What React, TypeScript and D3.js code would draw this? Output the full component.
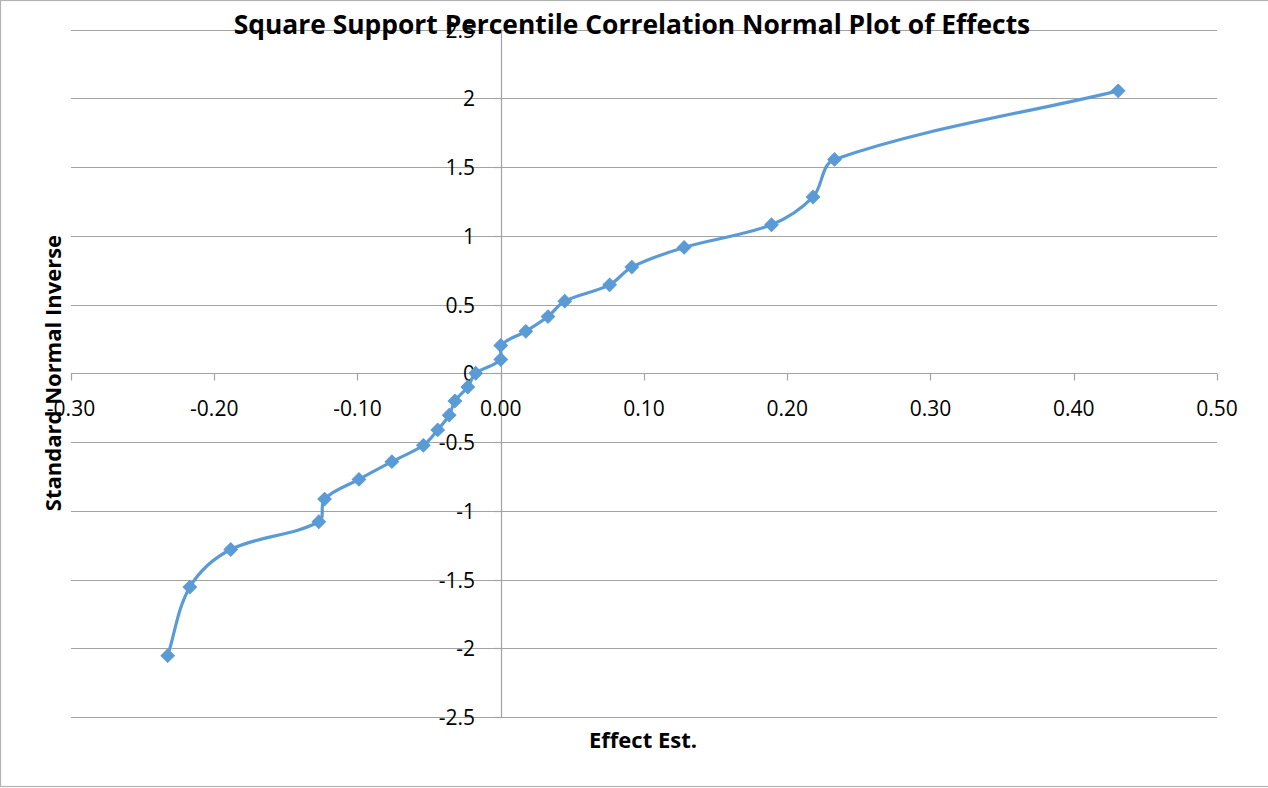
import React, { useEffect, useRef } from "react";
import * as d3 from "d3";

// Effect estimates (x) and their standard normal inverse scores (y)
const effectEst = [
  -0.2325, -0.217, -0.1885, -0.127, -0.123, -0.099, -0.076, -0.054, -0.044,
  -0.036, -0.032, -0.023, -0.0175, 0.0, 0.0, 0.0175, 0.033, 0.0447, 0.076,
  0.0915, 0.128, 0.189, 0.218, 0.233, 0.431,
];
const normalInverse = [
  -2.054, -1.555, -1.282, -1.08, -0.915, -0.772, -0.643, -0.524, -0.412,
  -0.305, -0.202, -0.1, 0.0, 0.1, 0.202, 0.305, 0.412, 0.524, 0.643, 0.772,
  0.915, 1.08, 1.282, 1.555, 2.054,
];
const xTicks = [-0.3, -0.2, -0.1, 0.0, 0.1, 0.2, 0.3, 0.4, 0.5];
const yTicks = [-2.5, -2, -1.5, -1, -0.5, 0, 0.5, 1, 1.5, 2, 2.5];

const title = "Square Support Percentile Correlation Normal Plot of Effects";
const xTitle = "Effect Est.";
const yTitle = "Standard Normal Inverse";

const W = 1268;
const H = 788;
const FONT = "'Open Sans', 'Liberation Sans', sans-serif";
const BLUE = "#5b9bd5";
const GRID = "#a3a3a3";

// plain hyphen-minus for negative numbers
const hy = (s: string) => s.replace(/\u2212/g, "-");

// Smooth Bezier through screen points: tangent direction from the neighbours,
// handle length proportional to the segment being drawn (no overshoot loops).
function smoothPath(p: [number, number][]): string {
  const path = d3.path();
  const n = p.length;
  const unit = (a: [number, number], b: [number, number]) => {
    const dx = b[0] - a[0];
    const dy = b[1] - a[1];
    const l = Math.hypot(dx, dy) || 1;
    return [dx / l, dy / l];
  };
  const tangent = (i: number) => {
    if (i === 0) return unit(p[0], p[1]);
    if (i === n - 1) return unit(p[n - 2], p[n - 1]);
    return unit(p[i - 1], p[i + 1]);
  };
  path.moveTo(p[0][0], p[0][1]);
  for (let i = 0; i < n - 1; i++) {
    const a = p[i];
    const b = p[i + 1];
    const L = Math.hypot(b[0] - a[0], b[1] - a[1]) / 3;
    const ta = tangent(i);
    const tb = tangent(i + 1);
    path.bezierCurveTo(
      a[0] + ta[0] * L,
      a[1] + ta[1] * L,
      b[0] - tb[0] * L,
      b[1] - tb[1] * L,
      b[0],
      b[1]
    );
  }
  return path.toString();
}

export default function App() {
  const ref = useRef<SVGSVGElement | null>(null);

  useEffect(() => {
    const svg = d3.select(ref.current);
    svg.selectAll("*").remove();

    const x = d3.scaleLinear().domain([-0.3, 0.5]).range([71, 1217]);
    const y = d3.scaleLinear().domain([-2.5, 2.5]).range([717, 29.5]);

    // outer chart border
    svg
      .append("rect")
      .attr("x", 0.5)
      .attr("y", 0.5)
      .attr("width", W + 10)
      .attr("height", H - 2)
      .attr("fill", "#fff")
      .attr("stroke", "#b3b3b3")
      .attr("stroke-width", 1.2);

    // horizontal gridlines
    svg
      .append("g")
      .selectAll("line")
      .data(yTicks)
      .join("line")
      .attr("x1", x(-0.3))
      .attr("x2", x(0.5))
      .attr("y1", (d) => Math.round(y(d)) + 0.5)
      .attr("y2", (d) => Math.round(y(d)) + 0.5)
      .attr("stroke", GRID)
      .attr("stroke-width", 1.2);

    // vertical axis through x = 0 with ticks
    const x0 = Math.round(x(0)) + 0.5;
    svg
      .append("line")
      .attr("x1", x0)
      .attr("x2", x0)
      .attr("y1", y(2.5))
      .attr("y2", y(-2.5))
      .attr("stroke", GRID)
      .attr("stroke-width", 1.2);
    svg
      .append("g")
      .selectAll("line")
      .data(yTicks)
      .join("line")
      .attr("x1", x0 - 7)
      .attr("x2", x0)
      .attr("y1", (d) => Math.round(y(d)) + 0.5)
      .attr("y2", (d) => Math.round(y(d)) + 0.5)
      .attr("stroke", GRID)
      .attr("stroke-width", 1.2);

    // horizontal axis through y = 0 with ticks
    const y0 = Math.round(y(0)) + 0.5;
    svg
      .append("g")
      .selectAll("line")
      .data(xTicks)
      .join("line")
      .attr("x1", (d) => Math.round(x(d)) + 0.5)
      .attr("x2", (d) => Math.round(x(d)) + 0.5)
      .attr("y1", y0)
      .attr("y2", y0 + 7)
      .attr("stroke", GRID)
      .attr("stroke-width", 1.2);

    // y tick labels
    svg
      .append("g")
      .selectAll("text")
      .data(yTicks)
      .join("text")
      .attr("x", 475)
      .attr("y", (d) => y(d) + 8)
      .attr("text-anchor", "end")
      .attr("font-family", FONT)
      .attr("font-size", 21)
      .attr("fill", "#000")
      .text((d) => hy(d3.format("")(d)));

    // x tick labels
    svg
      .append("g")
      .selectAll("text")
      .data(xTicks)
      .join("text")
      .attr("x", (d) => x(d))
      .attr("y", 416)
      .attr("text-anchor", "middle")
      .attr("font-family", FONT)
      .attr("font-size", 21)
      .attr("fill", "#000")
      .text((d) => hy(d3.format(".2f")(d)));

    // smoothed series line
    const pts: [number, number][] = effectEst.map((v, i) => [v, normalInverse[i]]);
    const screen: [number, number][] = pts.map((d) => [x(d[0]), y(d[1])]);
    svg
      .append("path")
      .attr("d", smoothPath(screen))
      .attr("fill", "none")
      .attr("stroke", BLUE)
      .attr("stroke-width", 3.2)
      .attr("stroke-linejoin", "round");

    // diamond markers
    const diamond = d3.symbol().type(d3.symbolSquare).size(90);
    svg
      .append("g")
      .selectAll("path")
      .data(pts)
      .join("path")
      .attr("d", diamond() as string)
      .attr("transform", (d) => `translate(${x(d[0])},${y(d[1])}) rotate(45)`)
      .attr("fill", BLUE)
      .attr("stroke", BLUE)
      .attr("stroke-width", 1);

    // titles
    svg
      .append("text")
      .attr("x", 632)
      .attr("y", 34)
      .attr("text-anchor", "middle")
      .attr("font-family", FONT)
      .attr("font-weight", 700)
      .attr("font-size", 26.4)
      .attr("fill", "#000")
      .text(title);

    svg
      .append("text")
      .attr("x", 643)
      .attr("y", 748)
      .attr("text-anchor", "middle")
      .attr("font-family", FONT)
      .attr("font-weight", 700)
      .attr("font-size", 22)
      .attr("fill", "#000")
      .text(xTitle);

    svg
      .append("text")
      .attr("transform", `translate(61,373) rotate(-90)`)
      .attr("text-anchor", "middle")
      .attr("font-family", FONT)
      .attr("font-weight", 700)
      .attr("font-size", 22)
      .attr("fill", "#000")
      .text(yTitle);
  }, []);

  return (
    <svg
      ref={ref}
      width={W}
      height={H}
      style={{ position: "absolute", left: 0, top: 0, display: "block" }}
    />
  );
}
